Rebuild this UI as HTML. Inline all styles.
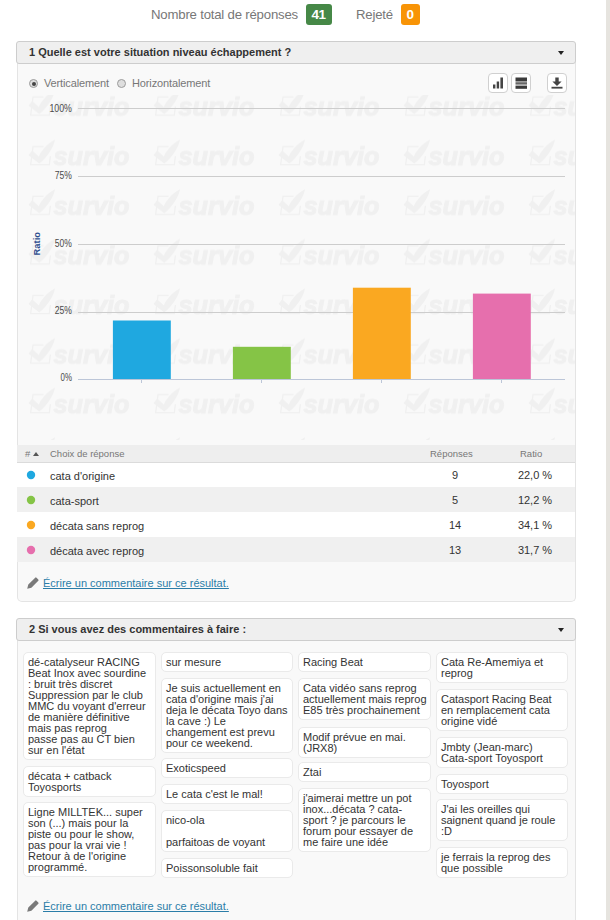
<!DOCTYPE html>
<html lang="fr">
<head>
<meta charset="utf-8">
<title>Survio</title>
<style>
*{box-sizing:border-box;margin:0;padding:0}
html,body{width:610px;height:920px;overflow:hidden;background:#fff}
body{position:relative;font-family:"Liberation Sans",sans-serif;font-size:11px;color:#333}
.abs{position:absolute}
.stripe{position:absolute;left:606px;top:0;width:4px;height:920px;background:#e6e4df}
.top{position:absolute;top:6.4px;font-size:13.2px;letter-spacing:-0.2px;line-height:17px;color:#777;white-space:nowrap}
.badge{position:absolute;top:4px;height:21px;border-radius:3px;color:#fff;font-weight:bold;font-size:13.5px;letter-spacing:-0.6px;line-height:21px;text-align:center;padding-right:1px}
.hdr{position:absolute;left:16px;width:560px;height:23px;border:1px solid #cdcdcd;border-radius:3px;background:#efefef;font-weight:bold;font-size:11px;line-height:21px;padding-left:12px;color:#333;white-space:nowrap}
.hdr i{position:absolute;right:11px;top:9px;width:0;height:0;border-left:3.5px solid transparent;border-right:3.5px solid transparent;border-top:4px solid #222}
.panel{position:absolute;left:17px;width:559px;background:#f9f9f9;border:1px solid #e4e4e4;border-top:none;border-radius:0 0 5px 5px}
.radio{position:absolute;top:79px;width:9px;height:9px;border-radius:50%;border:1px solid #9c9c9c;background:#dedede}
.radio.on:after{content:"";position:absolute;left:1.5px;top:1.5px;width:4px;height:4px;border-radius:50%;background:#444}
.rl{position:absolute;top:77px;font-size:11px;line-height:13px;color:#777;white-space:nowrap;letter-spacing:-0.13px}
.btn{position:absolute;top:73px;width:20px;height:20px;border:1px solid #d0d0d0;border-radius:4px;background:#fff}
.th{position:absolute;left:17px;top:445px;width:558px;height:18px;background:#eee;border-bottom:1px solid #dbdbdb;font-size:9.5px;color:#777;line-height:18px}
.th span,.tr span{position:absolute;top:0;white-space:nowrap}
.tr{position:absolute;left:17px;width:558px;height:25px;font-size:11px;line-height:25px;color:#333}
.tr.o{background:#fff}
.tr.t1 span{top:1px}
.tr.t1 .dot{top:7.8px}
.tr span.lb{top:1px}
.tr.t1 span.lb{top:2px}
.tr.e{background:#f0f0f0}
.dot{position:absolute;left:9px;top:7.4px;width:10px;height:10px}
.c{text-align:center}
.lnk{position:absolute;left:43px;font-size:11px;line-height:13px;color:#2b7da8;text-decoration:underline;white-space:nowrap}
.cm{position:absolute;width:132px;background:#fff;border:1px solid #eaeaea;border-radius:5px;padding:4px 4px 3px 4px;font-size:11px;line-height:11px;color:#333;white-space:nowrap;overflow:hidden}
</style>
</head>
<body>
<div class="stripe"></div>

<div class="top" style="left:151px">Nombre total de réponses</div>
<div class="badge" style="left:306px;width:26px;background:#468847">41</div>
<div class="top" style="left:356px">Rejeté</div>
<div class="badge" style="left:401px;width:19px;background:#f89406">0</div>

<!-- SECTION 1 -->
<div class="panel" style="top:60px;height:542px"></div>
<div class="hdr" style="top:41px">1 Quelle est votre situation niveau échappement ?<i></i></div>

<div class="radio on" style="left:29px"></div>
<div class="rl" style="left:44px">Verticalement</div>
<div class="radio" style="left:117px"></div>
<div class="rl" style="left:132px">Horizontalement</div>

<div class="btn" style="left:488px"><svg width="18" height="18" viewBox="0 0 18 18"><rect x="4" y="10.5" width="2.4" height="4" fill="#444"/><rect x="7.7" y="7.5" width="2.4" height="7" fill="#444"/><rect x="11.4" y="3.5" width="2.6" height="11" fill="#444"/></svg></div>
<div class="btn" style="left:511px"><svg width="18" height="18" viewBox="0 0 18 18"><rect x="3.5" y="3.5" width="11.5" height="4" fill="#3a3a3a"/><rect x="3.5" y="8.2" width="11.5" height="2.4" fill="#666"/><rect x="3.5" y="11.6" width="11.5" height="3.2" fill="#3a3a3a"/></svg></div>
<div class="btn" style="left:547px"><svg width="18" height="18" viewBox="0 0 18 18"><path d="M7.3 3.5h3.4v4h2.9L9 12 4.4 7.5h2.9z" fill="#444"/><rect x="3.5" y="12.8" width="11" height="1.8" fill="#444"/></svg></div>

<!-- CHART -->
<svg class="abs" style="left:17px;top:95px" width="558" height="345" viewBox="17 95 558 345">
<defs>
<pattern id="wm" x="28" y="132.4" width="125" height="49.6" patternUnits="userSpaceOnUse">
<g fill="#f0f0f0" stroke="#f0f0f0">
<path d="M15.5 14.2H5L2.7 32.3h18.6l1.1-8.5" stroke-width="1.3" fill="none"/>
<path d="M4.2 18.2L10.9 24.2C12.5 20 17.5 12.5 27 7.3C26 13 21 24 11.3 31.2L0.5 22.7Z" stroke="none"/>
<text x="25.5" y="32.4" font-family="Liberation Sans, sans-serif" font-size="26" font-weight="bold" font-style="italic" textLength="76" lengthAdjust="spacingAndGlyphs" stroke-width="1.1">survio</text>
</g>
</pattern>
</defs>
<rect x="17" y="95" width="558" height="345" fill="url(#wm)"/>
<g stroke="#cdcdcd" stroke-width="1" shape-rendering="crispEdges">
<line x1="78" x2="565" y1="108.5" y2="108.5"/>
<line x1="78" x2="565" y1="176.5" y2="176.5"/>
<line x1="78" x2="565" y1="244.5" y2="244.5"/>
<line x1="78" x2="565" y1="312.5" y2="312.5"/>
</g>
<rect x="112.9" y="320.5" width="57.9" height="58.5" fill="#1fa8e0"/>
<rect x="232.9" y="346.8" width="57.9" height="32.2" fill="#85c446"/>
<rect x="352.9" y="287.7" width="57.9" height="91.3" fill="#faa821"/>
<rect x="472.9" y="293.6" width="57.9" height="85.4" fill="#e66fad"/>
<g stroke="#bcc6d8" stroke-width="1" shape-rendering="crispEdges">
<line x1="78" x2="565" y1="379.5" y2="379.5"/>
<line x1="141.5" x2="141.5" y1="380" y2="383"/>
<line x1="261.5" x2="261.5" y1="380" y2="383"/>
<line x1="381.5" x2="381.5" y1="380" y2="383"/>
<line x1="501.5" x2="501.5" y1="380" y2="383"/>
</g>
<g font-family="Liberation Sans, sans-serif" font-size="10" fill="#4a4a4a" lengthAdjust="spacingAndGlyphs">
<text x="49.4" y="112" textLength="22.5" lengthAdjust="spacingAndGlyphs">100%</text>
<text x="54.8" y="179.3" textLength="17.1" lengthAdjust="spacingAndGlyphs">75%</text>
<text x="54.8" y="246.9" textLength="17.1" lengthAdjust="spacingAndGlyphs">50%</text>
<text x="54.8" y="313.8" textLength="17.1" lengthAdjust="spacingAndGlyphs">25%</text>
<text x="60.5" y="380.7" textLength="11.4" lengthAdjust="spacingAndGlyphs">0%</text>
</g>
<text transform="translate(39.8 255.4) rotate(-90)" font-family="Liberation Sans, sans-serif" font-size="9.5" font-weight="bold" fill="#2d4d8e" textLength="23.4" lengthAdjust="spacingAndGlyphs">Ratio</text>
</svg>

<!-- TABLE -->
<div class="th"><span style="left:8px">#</span><span style="left:16px;top:7px;width:0;height:0;border-left:3px solid transparent;border-right:3px solid transparent;border-bottom:4px solid #555"></span><span style="left:33px">Choix de réponse</span><span style="left:413px">Réponses</span><span style="left:503px">Ratio</span></div>
<div class="tr o" style="top:463px;height:24px"><svg class="dot" viewBox="0 0 10 10"><circle cx="5" cy="5" r="4.2" fill="#1fa8e0"/></svg><span class="lb" style="left:33px">cata d'origine</span><span class="c" style="left:408px;width:60px">9</span><span class="c" style="left:488px;width:60px">22,0 %</span></div>
<div class="tr e t1" style="top:487px"><svg class="dot" viewBox="0 0 10 10"><circle cx="5" cy="5" r="4.2" fill="#85c446"/></svg><span class="lb" style="left:33px">cata-sport</span><span class="c" style="left:408px;width:60px">5</span><span class="c" style="left:488px;width:60px">12,2 %</span></div>
<div class="tr o t1" style="top:512px"><svg class="dot" viewBox="0 0 10 10"><circle cx="5" cy="5" r="4.2" fill="#faa821"/></svg><span class="lb" style="left:33px">décata sans reprog</span><span class="c" style="left:408px;width:60px">14</span><span class="c" style="left:488px;width:60px">34,1 %</span></div>
<div class="tr e t1" style="top:537px"><svg class="dot" viewBox="0 0 10 10"><circle cx="5" cy="5" r="4.2" fill="#e66fad"/></svg><span class="lb" style="left:33px">décata avec reprog</span><span class="c" style="left:408px;width:60px">13</span><span class="c" style="left:488px;width:60px">31,7 %</span></div>

<svg class="abs" style="left:27px;top:577px" width="12" height="12" viewBox="0 0 12 12"><path d="M0.2 11.8L1.3 7.6 8.2 0.7a0.9 0.9 0 0 1 1.3 0L11.3 2.5a0.9 0.9 0 0 1 0 1.3L4.4 10.7z" fill="#7a7a7a"/></svg>
<div class="lnk" style="top:577.2px">Écrire un commentaire sur ce résultat.</div>

<!-- SECTION 2 -->
<div class="panel" style="top:637px;height:300px"></div>
<div class="hdr" style="top:618px">2 Si vous avez des commentaires à faire :<i></i></div>

<!-- col 1 -->
<div class="cm" style="width:133px;left:23px;top:652px">dé-catalyseur RACING<br>Beat Inox avec sourdine<br>: bruit très discret<br>Suppression par le club<br>MMC du voyant d'erreur<br>de manière définitive<br>mais pas reprog<br>passe pas au CT bien<br>sur en l'état</div>
<div class="cm" style="width:133px;left:23px;top:766px">décata + catback<br>Toyosports</div>
<div class="cm" style="width:133px;left:23px;top:802px">Ligne MILLTEK... super<br>son (...) mais pour la<br>piste ou pour le show,<br>pas pour la vrai vie !<br>Retour à de l'origine<br>programmé.</div>
<!-- col 2 -->
<div class="cm" style="left:161px;top:652px">sur mesure</div>
<div class="cm" style="left:161px;top:678px">Je suis actuellement en<br>cata d'origine mais j'ai<br>deja le décata Toyo dans<br>la cave :) Le<br>changement est prevu<br>pour ce weekend.</div>
<div class="cm" style="left:161px;top:758px">Exoticspeed</div>
<div class="cm" style="left:161px;top:784px">Le cata c'est le mal!</div>
<div class="cm" style="left:161px;top:810px">nico-ola<br><br>parfaitoas de voyant</div>
<div class="cm" style="left:161px;top:858px">Poissonsoluble fait</div>
<!-- col 3 -->
<div class="cm" style="width:133px;left:298px;top:652px">Racing Beat</div>
<div class="cm" style="width:133px;left:298px;top:678px">Cata vidéo sans reprog<br>actuellement mais reprog<br>E85 très prochainement</div>
<div class="cm" style="width:133px;left:298px;top:727px">Modif prévue en mai.<br>(JRX8)</div>
<div class="cm" style="width:133px;left:298px;top:762px">Ztai</div>
<div class="cm" style="width:133px;left:298px;top:788px">j'aimerai mettre un pot<br>inox...décata ? cata-<br>sport ? je parcours le<br>forum pour essayer de<br>me faire une idée</div>
<!-- col 4 -->
<div class="cm" style="left:436px;top:652px">Cata Re-Amemiya et<br>reprog</div>
<div class="cm" style="left:436px;top:689px">Catasport Racing Beat<br>en remplacement cata<br>origine vidé</div>
<div class="cm" style="left:436px;top:737px">Jmbty (Jean-marc)<br>Cata-sport Toyosport</div>
<div class="cm" style="left:436px;top:774px">Toyosport</div>
<div class="cm" style="left:436px;top:799px">J'ai les oreilles qui<br>saignent quand je roule<br>:D</div>
<div class="cm" style="left:436px;top:847px">je ferrais la reprog des<br>que possible</div>

<svg class="abs" style="left:27px;top:900px" width="12" height="12" viewBox="0 0 12 12"><path d="M0.2 11.8L1.3 7.6 8.2 0.7a0.9 0.9 0 0 1 1.3 0L11.3 2.5a0.9 0.9 0 0 1 0 1.3L4.4 10.7z" fill="#7a7a7a"/></svg>
<div class="lnk" style="top:900.2px">Écrire un commentaire sur ce résultat.</div>
</body>
</html>
